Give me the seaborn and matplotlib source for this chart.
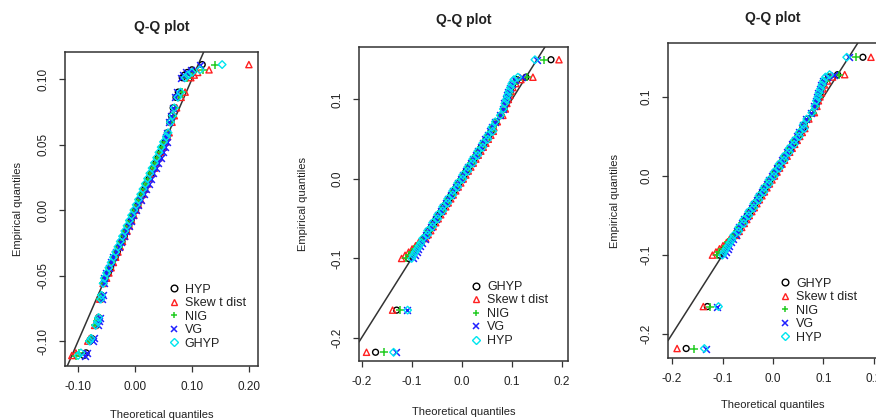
import matplotlib
matplotlib.use("Agg")
import matplotlib.pyplot as plt
from matplotlib.lines import Line2D
import seaborn as sns
import pandas as pd

# ---------------- data ----------------
# Panel 1: empirical quantiles (sorted returns) and theoretical quantiles per model
emp1 = [-0.111, -0.109, -0.100, -0.098, -0.088, -0.085, -0.082, -0.068, -0.065, -0.056,
        -0.052, -0.048, -0.044, -0.040, -0.036, -0.032, -0.028, -0.024, -0.020, -0.016,
        -0.012, -0.008, -0.004, 0.000, 0.004, 0.008, 0.012, 0.016, 0.020, 0.024,
        0.028, 0.032, 0.036, 0.040, 0.044, 0.048, 0.052,
        0.056, 0.059, 0.067, 0.072, 0.078, 0.086, 0.090, 0.101, 0.103, 0.105, 0.107, 0.111]
p1_black = [-0.090, -0.086, -0.079, -0.076, -0.068, -0.066, -0.064, -0.060, -0.059, -0.055,
            -0.052, -0.047, -0.043, -0.040, -0.035, -0.031, -0.028, -0.023, -0.019, -0.016,
            -0.011, -0.007, -0.004, 0.001, 0.005, 0.008, 0.013, 0.017, 0.020, 0.025,
            0.029, 0.032, 0.037, 0.041, 0.045, 0.049, 0.053,
            0.055, 0.057, 0.061, 0.064, 0.067, 0.072, 0.076, 0.083, 0.087, 0.092, 0.100, 0.118]
p1_red = [-0.111, -0.104, -0.083, -0.080, -0.071, -0.068, -0.066, -0.062, -0.060, -0.056,
          -0.050, -0.046, -0.042, -0.038, -0.034, -0.030, -0.026, -0.022, -0.018, -0.014,
          -0.010, -0.006, -0.002, 0.002, 0.006, 0.010, 0.014, 0.018, 0.022, 0.026,
          0.030, 0.034, 0.038, 0.042, 0.046, 0.050, 0.054,
          0.057, 0.060, 0.065, 0.069, 0.073, 0.081, 0.088, 0.098, 0.104, 0.110, 0.130, 0.200]
p1_green = [-0.103, -0.098, -0.081, -0.078, -0.070, -0.067, -0.065, -0.061, -0.060, -0.056,
            -0.053, -0.049, -0.045, -0.041, -0.037, -0.033, -0.029, -0.025, -0.021, -0.017,
            -0.013, -0.009, -0.005, -0.001, 0.003, 0.007, 0.011, 0.015, 0.019, 0.023,
            0.027, 0.031, 0.035, 0.039, 0.043, 0.047, 0.051,
            0.056, 0.058, 0.063, 0.066, 0.070, 0.077, 0.082, 0.091, 0.096, 0.102, 0.120, 0.140]
p1_blue = [-0.088, -0.085, -0.074, -0.072, -0.065, -0.063, -0.062, -0.058, -0.057, -0.054,
           -0.055, -0.051, -0.046, -0.042, -0.038, -0.033, -0.029, -0.025, -0.020, -0.016,
           -0.011, -0.007, -0.003, 0.002, 0.006, 0.011, 0.015, 0.019, 0.024, 0.028,
           0.032, 0.037, 0.041, 0.045, 0.049, 0.053, 0.057,
           0.055, 0.057, 0.060, 0.063, 0.066, 0.070, 0.074, 0.080, 0.084, 0.090, 0.098, 0.115]
p1_cyan = [-0.100, -0.095, -0.080, -0.077, -0.069, -0.066, -0.064, -0.060, -0.059, -0.056,
           -0.054, -0.050, -0.046, -0.042, -0.038, -0.034, -0.030, -0.026, -0.022, -0.018,
           -0.014, -0.010, -0.006, -0.002, 0.002, 0.006, 0.010, 0.014, 0.018, 0.022,
           0.026, 0.030, 0.034, 0.038, 0.042, 0.046, 0.050,
           0.055, 0.058, 0.062, 0.066, 0.069, 0.075, 0.080, 0.088, 0.093, 0.100, 0.114, 0.153]
labels1 = ["HYP", "Skew t dist", "NIG", "VG", "GHYP"]

# Panels 2 and 3 (same sample)
emp2 = [-0.218, -0.165, -0.100, -0.096, -0.092, -0.088, -0.084, -0.080,
        -0.075, -0.070, -0.065, -0.060, -0.055, -0.050, -0.045, -0.040, -0.035, -0.030,
        -0.025, -0.020, -0.015, -0.010, -0.005, 0.000, 0.005, 0.010, 0.015, 0.020,
        0.025, 0.030, 0.035, 0.040, 0.045, 0.050, 0.055, 0.060,
        0.065, 0.072, 0.080, 0.088, 0.095, 0.100, 0.105, 0.110, 0.115, 0.120, 0.125, 0.128, 0.150]
p2_black = [-0.172, -0.130, -0.106, -0.101, -0.096, -0.091, -0.086, -0.081,
            -0.076, -0.070, -0.066, -0.060, -0.055, -0.051, -0.045, -0.040, -0.036, -0.030,
            -0.025, -0.021, -0.015, -0.010, -0.006, 0.000, 0.005, 0.009, 0.015, 0.020,
            0.024, 0.030, 0.035, 0.039, 0.045, 0.050, 0.054, 0.059,
            0.062, 0.068, 0.078, 0.084, 0.087, 0.090, 0.093, 0.095, 0.098, 0.102, 0.110, 0.128, 0.178]
p2_red = [-0.190, -0.138, -0.120, -0.113, -0.106, -0.099, -0.092, -0.086,
          -0.072, -0.067, -0.062, -0.057, -0.052, -0.047, -0.042, -0.037, -0.032, -0.027,
          -0.022, -0.017, -0.012, -0.007, -0.002, 0.003, 0.008, 0.013, 0.018, 0.023,
          0.028, 0.033, 0.038, 0.043, 0.048, 0.053, 0.058, 0.063,
          0.064, 0.071, 0.082, 0.087, 0.090, 0.093, 0.096, 0.099, 0.102, 0.108, 0.118, 0.142, 0.194]
p2_green = [-0.156, -0.124, -0.111, -0.106, -0.100, -0.094, -0.089, -0.083,
            -0.077, -0.071, -0.066, -0.061, -0.056, -0.051, -0.046, -0.041, -0.036, -0.031,
            -0.026, -0.021, -0.016, -0.011, -0.006, -0.001, 0.004, 0.009, 0.014, 0.019,
            0.024, 0.029, 0.034, 0.039, 0.044, 0.049, 0.054, 0.059,
            0.062, 0.069, 0.079, 0.085, 0.088, 0.091, 0.094, 0.096, 0.099, 0.104, 0.113, 0.130, 0.164]
p2_blue = [-0.132, -0.110, -0.097, -0.094, -0.090, -0.087, -0.083, -0.079,
           -0.074, -0.072, -0.067, -0.062, -0.057, -0.052, -0.047, -0.042, -0.037, -0.032,
           -0.027, -0.022, -0.017, -0.012, -0.007, -0.002, 0.003, 0.008, 0.013, 0.018,
           0.023, 0.028, 0.033, 0.038, 0.043, 0.047, 0.052, 0.057,
           0.060, 0.066, 0.076, 0.082, 0.085, 0.088, 0.090, 0.093, 0.096, 0.100, 0.106, 0.120, 0.150]
p2_cyan = [-0.136, -0.108, -0.100, -0.097, -0.093, -0.089, -0.085, -0.081,
           -0.078, -0.068, -0.068, -0.058, -0.058, -0.048, -0.048, -0.038, -0.038, -0.028,
           -0.028, -0.018, -0.018, -0.008, -0.008, 0.002, 0.002, 0.012, 0.012, 0.022,
           0.022, 0.032, 0.032, 0.042, 0.042, 0.052, 0.052, 0.062,
           0.060, 0.067, 0.077, 0.083, 0.086, 0.089, 0.091, 0.094, 0.097, 0.100, 0.104, 0.112, 0.146]
labels2 = ["GHYP", "Skew t dist", "NIG", "VG", "HYP"]

xticks1 = [-0.10, 0.00, 0.10, 0.20]
xticklabels1 = ["-0.10", "0.00", "0.10", "0.20"]
yticks1 = [-0.10, -0.05, 0.00, 0.05, 0.10]
yticklabels1 = ["-0.10", "-0.05", "0.00", "0.05", "0.10"]
xticks2 = [-0.2, -0.1, 0.0, 0.1, 0.2]
xticklabels2 = ["-0.2", "-0.1", "0.0", "0.1", "0.2"]
yticks2 = [-0.2, -0.1, 0.0, 0.1]
yticklabels2 = ["-0.2", "-0.1", "0.0", "0.1"]

# ---------------- style ----------------
sns.set_theme(style="white")
plt.rcParams["font.family"] = ["Liberation Sans", "DejaVu Sans"]
plt.rcParams["axes.unicode_minus"] = False
TXT = "#222222"

colors = ["#000000", "#FF2020", "#22CC22", "#2020FF", "#00E5EE"]
markers = ["o", "^", "+", "x", "D"]
sizes = [18, 20, 36, 24, 15]

fig = plt.figure(figsize=(8.76, 4.2), dpi=100)

panels = [
    dict(rect=[65 / 876, 54 / 420, 193 / 876, 314 / 420], emp=emp1,
         th=[p1_black, p1_red, p1_green, p1_blue, p1_cyan], labels=labels1,
         xlim=(-0.123, 0.216), ylim=(-0.119, 0.1206),
         xt=xticks1, xtl=xticklabels1, yt=yticks1, ytl=yticklabels1,
         title_y=1.08, ylab_x=-0.218, xlab_y=-0.14, leg=(0.53, 0.262)),
    dict(rect=[359 / 876, 59 / 420, 209 / 876, 314 / 420], emp=emp2,
         th=[p2_black, p2_red, p2_green, p2_blue, p2_cyan], labels=labels2,
         xlim=(-0.205, 0.212), ylim=(-0.229, 0.166),
         xt=xticks2, xtl=xticklabels2, yt=yticks2, ytl=yticklabels2,
         title_y=1.086, ylab_x=-0.244, xlab_y=-0.146, leg=(0.53, 0.255)),
    dict(rect=[668 / 876, 62 / 420, 209 / 876, 315 / 420], emp=emp2,
         th=[p2_black, p2_red, p2_green, p2_blue, p2_cyan], labels=labels2,
         xlim=(-0.208, 0.206), ylim=(-0.230, 0.168),
         xt=xticks2, xtl=xticklabels2, yt=yticks2, ytl=yticklabels2,
         title_y=1.079, ylab_x=-0.23, xlab_y=-0.133, leg=(0.53, 0.255)),
]

for p in panels:
    ax = fig.add_axes(p["rect"])
    ax.set_facecolor("white")
    for th, col, mk, sz, lab in zip(p["th"], colors, markers, sizes, p["labels"]):
        df = pd.DataFrame({"theoretical": th, "empirical": p["emp"]})
        if mk in ("+", "x"):
            sns.scatterplot(data=df, x="theoretical", y="empirical", ax=ax, marker=mk,
                            s=sz, color=col, linewidth=1.1, legend=False, zorder=3)
        else:
            sns.scatterplot(data=df, x="theoretical", y="empirical", ax=ax, marker=mk,
                            s=sz, facecolor="none", edgecolor=col, linewidth=1.0,
                            legend=False, zorder=3)
    ax.axline((0, 0), slope=1, color="#333333", lw=1.1, zorder=2)
    ax.set_xlim(*p["xlim"])
    ax.set_ylim(*p["ylim"])
    ax.set_xticks(p["xt"])
    ax.set_xticklabels(p["xtl"])
    ax.set_yticks(p["yt"])
    ax.set_yticklabels(p["ytl"], rotation=90, va="center")
    ax.tick_params(axis="both", direction="out", length=4, width=0.9, color="#333333",
                   labelsize=8.5, labelcolor=TXT, pad=7, bottom=True, left=True)
    for s in ax.spines.values():
        s.set_color("#333333")
        s.set_linewidth(1.1)
    ax.set_xlabel("Theoretical quantiles", fontsize=8, color=TXT)
    ax.set_ylabel("Empirical quantiles", fontsize=8, color=TXT)
    ax.xaxis.set_label_coords(0.5, p["xlab_y"])
    ax.yaxis.set_label_coords(p["ylab_x"], 0.5)
    ax.text(0.5, p["title_y"], "Q-Q plot", transform=ax.transAxes, ha="center",
            va="center", fontsize=10, fontweight="bold", color=TXT)
    handles = []
    for col, mk, lab in zip(colors, markers, p["labels"]):
        if mk in ("+", "x"):
            h = Line2D([], [], ls="", marker=mk, color=col, markersize=5, mew=1.1, label=lab)
        else:
            h = Line2D([], [], ls="", marker=mk, mfc="none", mec=col,
                       markersize=4.8 if mk != "D" else 4.2, mew=1.0, label=lab)
        handles.append(h)
    ax.legend(handles=handles, loc="upper left", bbox_to_anchor=p["leg"], frameon=False,
              fontsize=9, handlelength=1.0, handletextpad=0.4, labelspacing=0.12,
              borderpad=0.0, borderaxespad=0.0, labelcolor=TXT)

fig.savefig("out.png", dpi=100, facecolor="white")
